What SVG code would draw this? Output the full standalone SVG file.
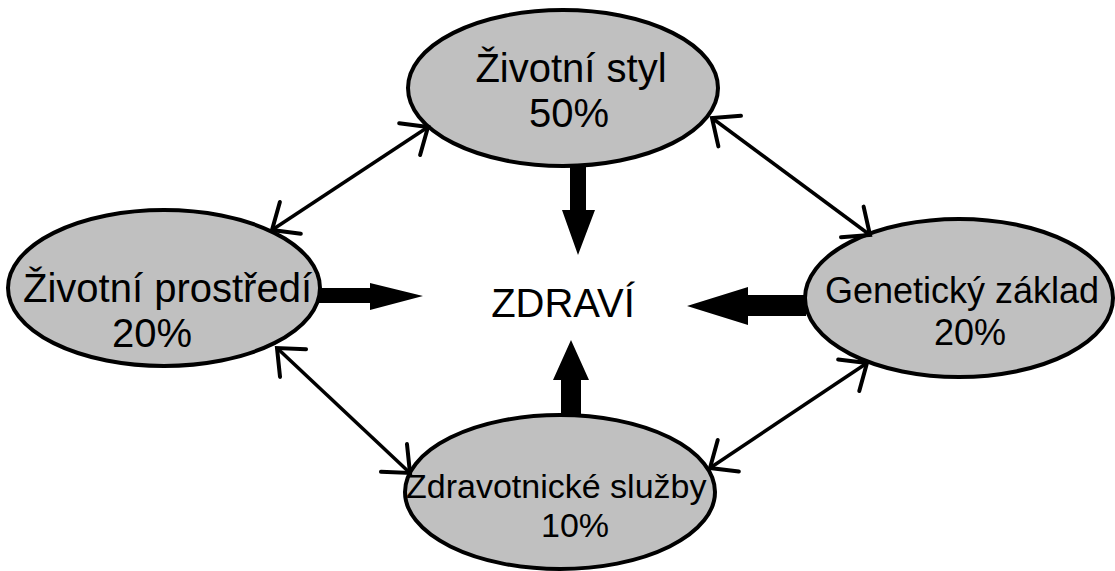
<svg xmlns="http://www.w3.org/2000/svg" width="1115" height="571" viewBox="0 0 1115 571">
  <style>
    .node { fill: #c0c0c0; stroke: #000; stroke-width: 4; }
    .lbl { font-family: "Liberation Sans", Arial, sans-serif; fill: #000; }
    .link { stroke: #000; stroke-width: 3.5; fill: none; }
    .big { fill: #000; stroke: none; }
  </style>
  <defs>
    <marker id="vhead" markerUnits="userSpaceOnUse" viewBox="-28 -24 32 48" markerWidth="32" markerHeight="48" refX="0" refY="0" orient="auto-start-reverse">
      <path d="M -22,-19 L 0,0 L -22,19" fill="none" stroke="#000" stroke-width="4" stroke-linecap="round"/>
    </marker>
  </defs>
  <rect width="1115" height="571" fill="#fff"/>

  <g id="zivotni-styl">
    <ellipse class="node" cx="563" cy="88" rx="155" ry="78"/>
    <text class="lbl" x="571" y="82" font-size="40" text-anchor="middle">Životní styl</text>
    <text class="lbl" x="569" y="127" font-size="40" text-anchor="middle">50%</text>
  </g>

  <g id="zivotni-prostredi">
    <ellipse class="node" cx="164" cy="288" rx="156" ry="78"/>
    <text class="lbl" x="23" y="302" font-size="40">Životní prostředí</text>
    <text class="lbl" x="152" y="347" font-size="40" text-anchor="middle">20%</text>
  </g>

  <g id="geneticky-zaklad">
    <ellipse class="node" cx="959" cy="298" rx="154" ry="79"/>
    <text class="lbl" x="825" y="303" font-size="36">Genetický základ</text>
    <text class="lbl" x="970" y="345" font-size="36" text-anchor="middle">20%</text>
  </g>

  <g id="zdravotnicke-sluzby">
    <ellipse class="node" cx="560" cy="492" rx="155" ry="77"/>
    <text class="lbl" x="406" y="498" font-size="34">Zdravotnické služby</text>
    <text class="lbl" x="575" y="537" font-size="34" text-anchor="middle">10%</text>
  </g>

  <g id="zdravi">
    <text class="lbl" x="563" y="317" font-size="40" text-anchor="middle">ZDRAVÍ</text>
  </g>

  <g id="connectors">
    <!-- two-way links between neighbouring factors -->
    <line class="link" x1="428" y1="127" x2="272" y2="230" marker-start="url(#vhead)" marker-end="url(#vhead)"/>
    <line class="link" x1="712" y1="118" x2="870" y2="235" marker-start="url(#vhead)" marker-end="url(#vhead)"/>
    <line class="link" x1="277" y1="348" x2="410" y2="473" marker-start="url(#vhead)" marker-end="url(#vhead)"/>
    <line class="link" x1="867" y1="363" x2="710" y2="468" marker-start="url(#vhead)" marker-end="url(#vhead)"/>

    <!-- block arrows pointing at the centre -->
    <polygon class="big" points="570,164 586,164 586,210 595,210 578,255 562,210 570,210"/>
    <polygon class="big" points="561,416 581,416 581,380 589,380 571,340 553,380 561,380"/>
    <polygon class="big" points="318,288 370,288 370,283 423,296 370,310 370,303 318,303"/>
    <polygon class="big" points="806,295 748,295 748,287 687,306 748,325 748,316 806,316"/>
  </g>
</svg>
